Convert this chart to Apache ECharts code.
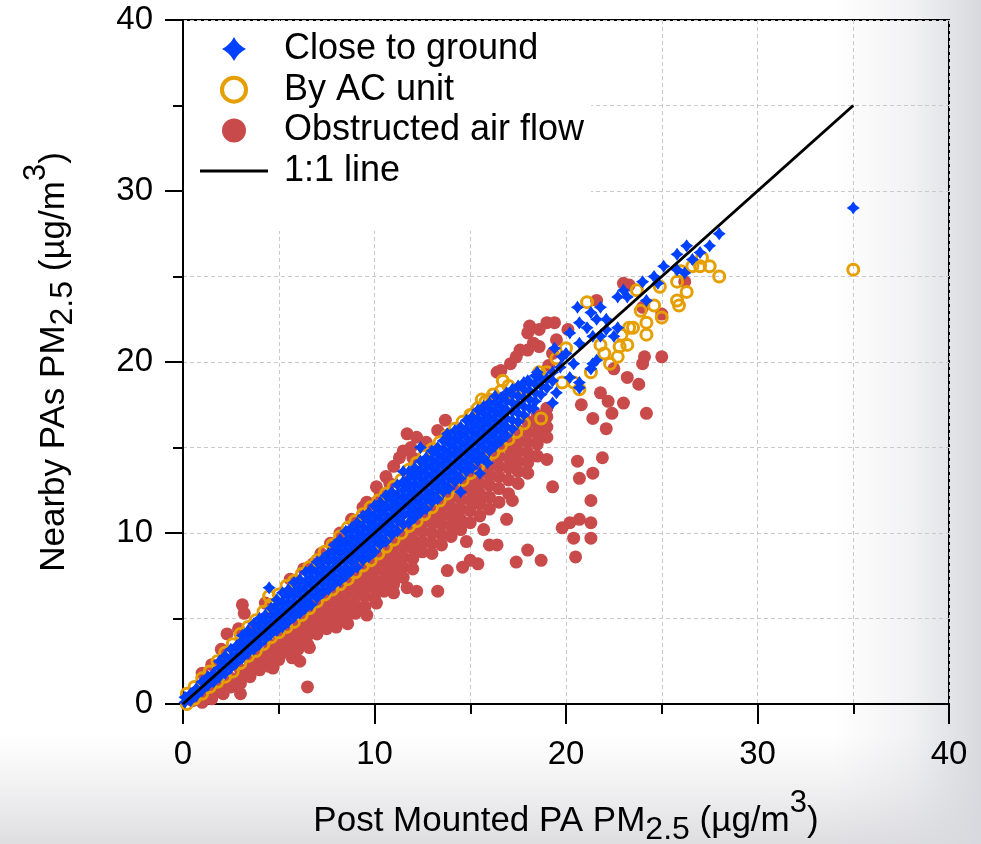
<!DOCTYPE html>
<html><head><meta charset="utf-8">
<script src="https://cdn.jsdelivr.net/npm/echarts@6/dist/echarts.min.js"></script>
<style>
html,body{margin:0;padding:0;background:#fff;}
#c{width:981px;height:844px;background:
 linear-gradient(to right, rgba(216,217,222,0) 0%, rgba(216,217,222,0) 85%, rgba(216,217,222,0.35) 93%, rgba(216,217,222,1) 100%),
 linear-gradient(to bottom, rgba(222,222,225,0) 0%, rgba(222,222,225,0) 87%, rgba(222,222,225,0.4) 93%, rgba(222,222,225,1) 100%),
 #ffffff;}
</style></head><body><div id="c"></div>
<script>
// axis ranges / tick labels
const xRange = [0, 40];
const yRange = [0, 40];
const tickStep = 10;

// series names
const seriesNames = ['Close to ground', 'By AC unit', 'Obstructed air flow', '1:1 line'];

// 1:1 reference line
const oneToOne = [[0, 0], [35, 35]];

// Close to ground: dense band, columns [x, y1, y2, ...]
const blueBand = [
[0.1,0.1,0.4],[0.4,0.2,0.6],[0.7,0.5,0.9],[1.0,0.8,1.3],[1.3,1.1,1.6],[1.6,1.3,1.8],
[1.9,1.6,2.1,2.5],[2.2,1.8,2.3,2.8],[2.5,2.1,2.6,3.2],[2.8,2.4,2.9,3.4],
[3.1,2.7,3.2,3.7,4.0],[3.4,3.0,3.5,4.0,4.3],[3.7,3.2,3.7,4.2,4.7],[4.0,3.5,4.0,4.5,5.0],
[4.3,3.8,4.3,4.8,5.2],[4.6,4.1,4.6,5.1,5.6],[4.9,4.3,4.8,5.3,5.8,6.1],[5.2,4.5,5.0,5.5,6.0,6.5],
[5.5,4.8,5.3,5.8,6.3,6.7],[5.8,5.1,5.5,6.0,6.5,7.1],[6.1,5.3,5.8,6.3,6.8,7.3],[6.4,5.6,6.1,6.6,7.1,7.7],
[6.7,5.8,6.4,6.9,7.4,7.9],[7.0,6.2,6.7,7.2,7.7,8.3],[7.3,6.5,7.0,7.5,8.0,8.5],[7.6,6.7,7.3,7.8,8.3,8.8],
[7.9,7.0,7.5,8.0,8.5,9.0,9.3],[8.2,7.2,7.8,8.3,8.8,9.3,9.6],[8.5,7.5,8.0,8.5,9.0,9.5,10.1],
[8.8,7.8,8.3,8.8,9.3,9.8,10.3],[9.1,8.0,8.6,9.1,9.6,10.1,10.6],[9.4,8.4,8.9,9.4,9.9,10.4,11.0],
[9.7,8.6,9.2,9.7,10.2,10.7,11.2],[10.0,8.9,9.5,10.0,10.5,11.0,11.6],[10.3,9.3,9.8,10.3,10.8,11.3,11.8],
[10.6,9.5,10.1,10.6,11.1,11.6,12.2],[10.9,9.9,10.4,10.9,11.4,11.9,12.4],[11.2,10.1,10.7,11.2,11.7,12.2,12.8],
[11.5,10.5,11.0,11.5,12.0,12.5,13.0],[11.8,10.6,11.2,11.7,12.2,12.7,13.2,13.6],
[12.1,10.9,11.4,11.9,12.4,12.9,13.4,13.8],[12.4,11.2,11.7,12.2,12.7,13.2,13.7,14.2],
[12.7,11.4,12.0,12.5,13.0,13.5,14.0,14.4],[13.0,11.8,12.3,12.8,13.3,13.8,14.3,14.8],
[13.3,12.0,12.6,13.1,13.6,14.1,14.6,15.0],[13.6,12.4,12.9,13.4,13.9,14.4,14.9,15.4],
[13.9,12.6,13.2,13.7,14.2,14.7,15.2,15.6],[14.2,13.0,13.5,14.0,14.5,15.0,15.5,16.0],
[14.5,13.2,13.8,14.3,14.8,15.3,15.8,16.2],[14.8,13.6,14.1,14.6,15.1,15.6,16.1,16.6],
[15.1,13.8,14.4,14.9,15.4,15.9,16.4,16.8],[15.4,14.2,14.7,15.2,15.7,16.2,16.7,17.2],
[15.7,14.4,15.0,15.5,16.0,16.5,17.0,17.4],[16.0,14.8,15.3,15.8,16.3,16.8,17.3,17.6],
[16.3,15.1,15.6,16.1,16.6,17.1,17.6,18.0],[16.6,15.4,15.9,16.4,16.9,17.4,17.9],
[16.9,15.7,16.2,16.7,17.2,17.7,18.2],[17.2,16.1,16.6,17.1,17.6,18.1],[17.5,16.5,17.0,17.5,18.0,18.6],
[17.8,16.9,17.4,17.9,18.4,18.8],[18.1,17.3,17.8,18.3,18.8],[18.4,17.7,18.2,18.7,19.2],
[18.7,18.1,18.6,19.0],[19.0,18.5,19.0],[19.3,18.9,19.4]
];
// Close to ground: scattered points
const blueScatter = [
[4.5,6.8],[11.5,13.6],[12.4,15.0],[13.8,15.8],[14.5,12.4],[15.5,13.5],[15.9,14.1],[17.2,18.4],
[18.0,18.9],[18.5,19.4],[19.3,17.6],[19.5,18.2],[19.7,19.7],[19.8,20.3],[19.4,20.8],[20.2,19.1],
[20.7,18.8],[20.7,18.5],[20.2,21.7],[20.4,19.9],[20.6,23.2],[20.7,22.3],[20.7,21.1],[21.1,22.0],
[21.3,22.9],[21.3,19.6],[21.4,21.5],[21.4,19.9],[21.6,20.1],[21.6,22.5],[21.8,23.2],[21.8,21.5],
[22.1,21.9],[22.1,22.5],[22.5,21.5],[22.7,22.0],[22.7,23.8],[23.0,24.2],[23.2,23.8],[24.0,24.7],
[24.2,23.6],[24.6,25.0],[24.8,24.6],[25.1,25.6],[25.8,25.4],[25.8,26.3],[26.2,25.2],[26.3,26.8],
[26.6,26.0],[27.0,26.4],[27.5,26.8],[28.0,27.5],[35.0,29.0],[18.3,17.3],[19.0,19.0],[20.0,20.5]
];

// By AC unit: band edges, columns [x, upper, lower]
const orangeBand = [
[0.2,0.6,0.0],[0.6,1.0,0.3],[1.0,1.5,0.6],[1.4,1.9,1.0],[1.8,2.5,1.3],[2.2,3.0,1.6],[2.6,3.5,1.9],
[3.0,4.1,2.4],[3.4,4.5,2.8],[3.8,4.9,3.1],[4.2,5.4,3.5],[4.6,5.8,3.9],[5.0,6.4,4.2],[5.4,6.9,4.5],
[5.8,7.2,4.8],[6.2,7.6,5.2],[6.6,8.0,5.6],[7.0,8.4,6.0],[7.4,8.9,6.4],[7.8,9.3,6.7],[8.2,9.8,7.0],
[8.6,10.3,7.3],[9.0,10.7,7.7],[9.4,11.1,8.1],[9.8,11.5,8.4],[10.2,11.9,8.8],[10.6,12.3,9.2],
[11.0,12.7,9.6],[11.4,13.1,10.0],[11.8,13.7,10.4],[12.2,14.1,10.7],[12.6,14.5,11.1],[13.0,14.9,11.5],
[13.4,15.3,11.9],[13.8,15.7,12.3],[14.2,16.1,12.7],[14.6,16.5,13.1],[15.0,16.9,13.5],[15.4,17.3,13.9],
[15.8,17.7,14.3],[16.2,18.1,14.7],[16.6,18.3,15.1],[17.0,18.6,15.5],[17.4,15.9],[17.8,16.4]
];
// By AC unit: scattered rings
const orangeScatter = [
[4.5,6.3],[16.0,17.8],[16.7,18.9],[17.8,18.4],[18.6,19.4],[18.7,16.7],[19.0,19.4],[19.8,18.8],
[20.4,18.8],[20.7,18.4],[21.1,23.5],[21.3,19.4],[22.3,19.9],[22.7,20.3],[22.8,20.9],[22.9,21.6],
[23.2,21.0],[23.5,22.0],[23.7,24.2],[23.9,23.0],[24.2,22.3],[24.2,21.6],[24.6,23.3],[24.9,24.4],
[25.0,22.6],[25.8,23.6],[25.8,24.7],[25.9,23.3],[26.3,24.1],[27.0,25.6],[27.1,26.1],[27.5,25.6],
[28.0,25.0],[35.0,25.4],[17.3,18.0],[19.5,20.2],[20.0,20.8],[21.8,21.0],[22.0,20.5],[26.0,25.3],
[26.6,25.6],[15.6,17.8],[15.1,16.9],[23.3,22.0]
];

// Obstructed air flow: dense mass, columns [x, y1, y2, ...]
const redBand = [
[0.5,0.2],[1.0,0.5,0.1],[1.5,0.8,0.4],[2.0,1.1,0.7],[2.5,1.5,1.0],[3.0,2.0,1.6,1.2],[3.5,2.5,2.0,1.6],
[4.0,3.0,2.5,2.0],[4.5,3.5,3.0,2.6,2.2],[5.0,4.0,3.5,3.0,2.6],[5.5,4.5,4.0,3.5,3.0],
[6.0,5.0,4.5,4.0,3.6,3.2],[6.5,5.5,5.0,4.5,4.0,3.5],[7.0,6.0,5.5,5.0,4.5,4.1],[7.5,6.4,5.9,5.4,4.9,4.4],
[8.0,6.9,6.4,5.9,5.4,4.9,4.5],[8.5,7.4,6.9,6.4,5.9,5.4,4.9],[9.0,7.9,7.4,6.9,6.4,5.8,5.3],
[9.5,8.3,7.8,7.3,6.8,6.3,5.7],[10.0,8.8,8.3,7.8,7.3,6.8,6.2],[10.5,9.3,8.8,8.3,7.8,7.2,6.6],
[11.0,9.7,9.2,8.7,8.2,7.6,7.0],[11.5,10.2,9.7,9.2,8.6,8.0,7.4],[12.0,10.7,10.2,9.6,9.1,8.5,7.9],
[12.5,11.2,10.6,10.1,9.5,8.9],[13.0,11.7,11.1,10.6,10.0,9.4,8.8],[13.5,12.1,11.6,11.0,10.5,9.9,9.3],
[14.0,12.6,12.1,11.5,11.0,10.4,9.8],[14.5,13.1,12.5,12.0,11.4,10.8,10.2],[15.0,13.6,13.0,12.5,11.9,11.3,10.6],
[15.5,14.1,13.5,12.9,12.3,11.7,11.0],[16.0,14.6,14.0,13.4,12.8,12.1,11.4],[16.5,15.0,14.5,13.9,13.3,12.6,11.8],
[17.0,15.5,15.0,14.4,13.8,13.1,12.3],[17.5,16.0,15.4,14.8,14.2,13.6,12.9],[18.0,16.5,15.9,15.3,14.7,14.1,13.5],
[18.5,16.9,16.4,15.8,15.2,14.5],[19.0,17.3,16.8,16.2,15.6]
];
// Obstructed air flow: scattered points
const redScatter = [
[1.5,0.3],[2.1,0.6],[3.0,0.6],[2.8,1.2],[3.5,1.9],[4.7,2.1],[5.7,2.7],[6.1,2.5],[6.5,1.0],[6.6,3.3],
[8.6,4.7],[9.6,5.2],[10.1,5.9],[11.0,6.5],[11.7,6.8],[12.2,6.6],[13.3,6.6],[13.8,7.8],[14.6,8.0],
[15.0,8.4],[15.4,8.2],[14.8,9.5],[16.0,9.3],[16.4,9.3],[15.7,10.2],[16.9,10.8],[17.2,11.9],[17.4,8.3],
[18.0,9.0],[18.7,8.4],[20.5,8.6],[19.3,12.7],[20.6,14.2],[20.7,13.2],[21.4,13.5],[21.3,11.9],[21.9,14.4],
[19.8,10.3],[20.2,10.6],[20.7,10.8],[20.4,9.7],[21.3,9.7],[21.3,10.6],[19.0,14.3],
[24.1,20.3],[25.0,20.3],[23.2,19.1],[22.5,19.6],[21.8,18.2],[22.2,17.7],[23.0,17.6],[22.4,17.0],
[21.4,16.7],[22.1,16.1],[24.2,17.0],[24.0,19.9],[23.8,18.7],[20.8,17.5],
[1.0,1.8],[1.5,2.3],[2.0,3.2],[2.3,4.1],[2.9,4.4],[3.1,5.8],[3.2,5.3],[3.7,4.5],[5.6,7.3],[6.8,8.2],
[7.2,8.8],[7.7,9.4],[8.2,10.0],[9.4,11.5],[9.6,11.8],[9.9,11.7],[10.1,12.7],[10.6,13.3],[11.0,13.9],
[11.3,14.4],[11.9,15.0],[11.7,15.8],[12.2,15.6],[12.7,15.3],[13.3,16.0],[13.7,16.6],[16.4,19.4],
[16.6,19.5],[17.1,19.9],[17.4,20.3],[17.6,20.7],[18.0,20.7],[18.0,21.7],[18.1,22.1],[18.3,21.1],
[18.6,20.9],[18.6,21.9],[19.0,22.3],[19.3,20.5],[19.4,22.3],[19.5,21.3],[20.1,21.9],[21.6,23.6],
[23.0,24.6],[23.3,24.5],[19.1,19.8],[24.0,23.2],[25.0,22.8],[26.2,24.7],
[10.3,12.3],[10.8,12.9],[11.5,14.8],[12.0,14.4],[8.8,10.8],[4.3,5.9],[6.3,7.9]
];

function fromCols(cols){const out=[];cols.forEach(c=>{for(let i=1;i<c.length;i++)out.push([c[0],c[i]]);});return out;}
const bluePts = fromCols(blueBand).concat(blueScatter);
const orangePts = fromCols(orangeBand).concat(orangeScatter);
const redPts = fromCols(redBand).concat(redScatter);

const FONT = 'Liberation Sans, Arial, Helvetica, sans-serif';
const starPath = 'path://M12,0 Q16,8 24,12 Q16,16 12,24 Q8,16 0,12 Q8,8 12,0 Z';
const linePath = 'path://M0,0 L68,0 L68,3 L0,3 Z';
const rich = {
  m:{fontSize:35, fontFamily:FONT, color:'#000', lineHeight:40},
  s:{fontSize:32, fontFamily:FONT, color:'#000', lineHeight:40, padding:[18,0,0,0]},
  p:{fontSize:31, fontFamily:FONT, color:'#000', lineHeight:40, padding:[0,0,36,0]}
};
const gridLine = {show:true, lineStyle:{color:'#cacaca', width:1, type:[4,3]}};
function axis(extra){
  return Object.assign({
    type:'value', interval:tickStep,
    axisLine:{show:true, onZero:false, lineStyle:{color:'#000', width:2}},
    splitLine:gridLine, minorSplitLine:gridLine,
    nameLocation:'middle', nameTextStyle:{rich:rich}
  }, extra);
}

const chart = echarts.init(document.getElementById('c'), null, {renderer:'canvas'});
chart.setOption({
  animation:false,
  backgroundColor:'transparent',
  grid:{left:183, top:20, width:766, height:684, show:true, borderColor:'#000', borderWidth:2,
        backgroundColor:'transparent', containLabel:false, outerBoundsMode:'none'},
  xAxis: axis({min:xRange[0], max:xRange[1],
    axisTick:{show:true, length:20, lineStyle:{color:'#000', width:2}},
    minorTick:{show:true, splitNumber:2, length:10, lineStyle:{color:'#000', width:2}},
    axisLabel:{fontSize:33, fontFamily:FONT, color:'#000', margin:34},
    name:'{m|Post Mounted PA PM}{s|2.5}{m| (µg/m}{p|3}{m|)}', nameGap:97}),
  yAxis: axis({min:yRange[0], max:yRange[1],
    axisTick:{show:true, length:18, lineStyle:{color:'#000', width:2}},
    minorTick:{show:true, splitNumber:2, length:10, lineStyle:{color:'#000', width:2}},
    axisLabel:{fontSize:33, fontFamily:FONT, color:'#000', margin:30},
    name:'{m|Nearby PAs PM}{s|2.5}{m| (µg/m}{p|3}{m|)}', nameGap:109, nameRotate:90}),
  legend:{
    orient:'vertical', left:184, top:21, padding:[10,7,42,16], backgroundColor:'#ffffff',
    itemWidth:68, itemHeight:24, itemGap:4.7, selectedMode:false,
    textStyle:{fontSize:36, fontFamily:FONT, color:'#000', lineHeight:30, padding:[0,0,0,11]},
    data:[
      {name:seriesNames[0]},
      {name:seriesNames[1], itemStyle:{borderWidth:4}},
      {name:seriesNames[2]},
      {name:seriesNames[3], icon:linePath, itemStyle:{color:'#000'}}
    ]
  },
  series:[
    {type:'scatter', name:seriesNames[2], data:redPts, symbol:'circle', symbolSize:13, silent:true,
     itemStyle:{color:'#c84a4a', opacity:1}},
    {type:'scatter', name:seriesNames[1], data:orangePts, symbol:'circle', symbolSize:11, silent:true,
     itemStyle:{color:'rgba(255,255,255,0)', borderColor:'#e69f00', borderWidth:3, opacity:1}},
    {type:'scatter', name:seriesNames[0], data:bluePts, symbol:starPath, symbolSize:13, silent:true,
     itemStyle:{color:'#0040ff', opacity:1}},
    {type:'line', name:seriesNames[3], data:oneToOne, symbol:'none', showSymbol:false, silent:true,
     lineStyle:{color:'#000', width:3}, itemStyle:{color:'#000'}}
  ]
});
</script></body></html>
